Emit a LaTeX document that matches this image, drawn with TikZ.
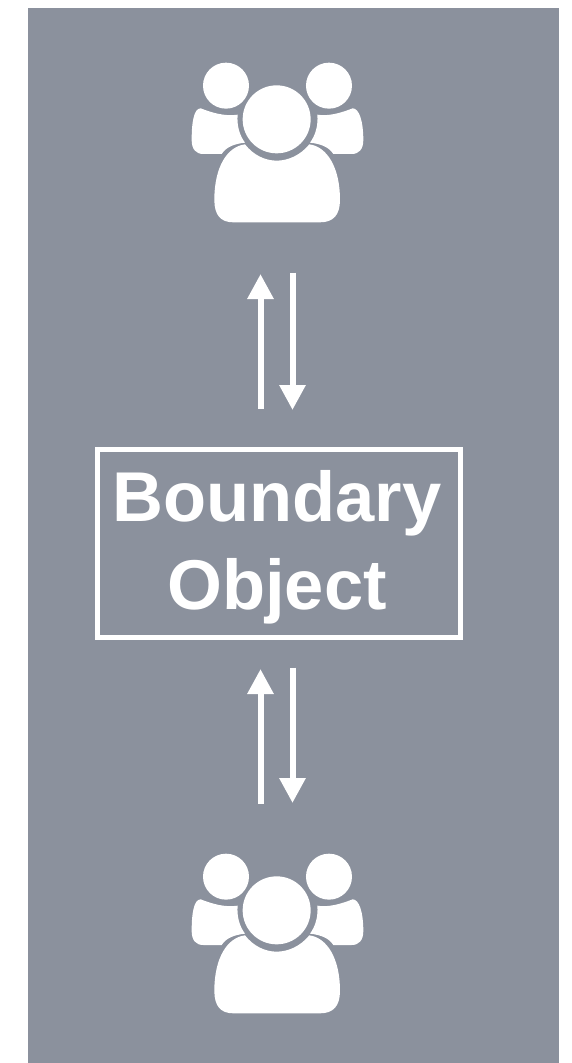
\documentclass[tikz,border=0pt]{standalone}
\usepackage{fontspec}
\setmainfont{Liberation Sans}
\usetikzlibrary{arrows.meta}
\definecolor{panel}{HTML}{8B919D}
\tikzset{
  x=1pt,y=-1pt,
  flow/.style={draw=white,line width=6pt,-{Triangle[width=25pt,length=25pt]}},
  objbox/.style={draw=white,line width=5pt,minimum width=363pt,minimum height=188pt,inner sep=0pt},
  objtext/.style={inner sep=0pt,text=white,font=\bfseries\fontsize{70.5}{88}\selectfont,align=center},
  people/.pic={
    \begin{scope}[x=0.3333pt,y=-0.3333pt,fill=white,draw=none]
      \fill (320,208) circle[radius=102];
      \fill (168,107) circle[radius=69];
      \fill (477,107) circle[radius=69];
      \fill (225,283) .. controls (250,315) and (285,332) .. (320,332)
        .. controls (355,332) and (392,315) .. (418,283)
        .. controls (470,290) and (510,350) .. (510,450)
        .. controls (510,495) and (490,517) .. (450,517)
        -- (190,517) .. controls (152,517) and (133,495) .. (133,450)
        .. controls (133,350) and (172,290) .. (225,283) -- cycle;
      \fill (92,175) .. controls (125,188) and (165,200) .. (203,194)
        .. controls (200,225) and (208,255) .. (225,278)
        .. controls (190,282) and (168,292) .. (155,312)
        -- (100,312) .. controls (78,312) and (65,298) .. (65,270)
        .. controls (65,215) and (72,175) .. (92,175) -- cycle;
      \fill (548,175) .. controls (515,188) and (475,200) .. (442,194)
        .. controls (445,225) and (437,255) .. (420,278)
        .. controls (455,282) and (477,292) .. (490,312)
        -- (545,312) .. controls (567,312) and (580,298) .. (580,270)
        .. controls (580,215) and (568,175) .. (548,175) -- cycle;
    \end{scope}
  }
}
\begin{document}
\begin{tikzpicture}
  \useasboundingbox (0,0) rectangle (571,1063);
  \fill[panel] (28,8) rectangle (559,1063);
  \pic at (170,50) {people};
  \pic at (170,841) {people};
  \node[objbox] (obj) at (279,543.5) {};
  \node[objtext] (objlabel) at (277,547.5) {Boundary\\Object};
  \coordinate (a1s) at (260.5,408.5);
  \coordinate (a1e) at (260.5,274);
  \coordinate (a2s) at (292.5,272.5);
  \coordinate (a2e) at (292.5,410);
  \coordinate (a3s) at (260.5,803.5);
  \coordinate (a3e) at (260.5,669);
  \coordinate (a4s) at (292.5,667.5);
  \coordinate (a4e) at (292.5,803);
  \draw[flow] (a1s) -- (a1e);
  \draw[flow] (a2s) -- (a2e);
  \draw[flow] (a3s) -- (a3e);
  \draw[flow] (a4s) -- (a4e);
\end{tikzpicture}
\end{document}
